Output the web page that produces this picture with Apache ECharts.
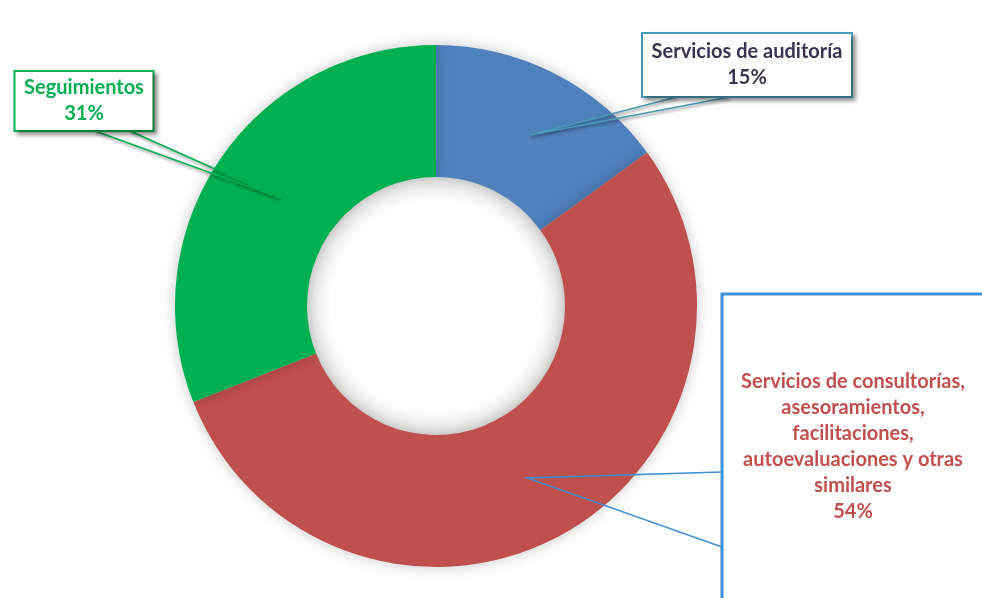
<!DOCTYPE html>
<html>
<head>
<meta charset="utf-8">
<script src="https://cdn.jsdelivr.net/npm/echarts@6/dist/echarts.min.js"></script>
<style>
  html, body { margin: 0; padding: 0; background: #fff; }
  #chart { width: 982px; height: 598px; }
</style>
</head>
<body>
<div id="chart"></div>
<script>
// datos
var categories = [
    'Servicios de auditoría',
    'Servicios de consultorías,\nasesoramientos,\nfacilitaciones,\nautoevaluaciones y otras\nsimilares',
    'Seguimientos'
];
var values = [15, 54, 31];
var colors = ['#4f81bd', '#c0504d', '#00b050'];

// estilo de cada globo
var callouts = [
    { text: '#3f3151', border: '#4a9ab5', line: '#4a9ab5', width: 192, padding: [5, 8], bg: '#fff',
      x: 747, y: 65, pts: [[677, 97], [530, 135], [730, 97]] },
    { text: '#c0504d', border: '#3d8fd6', line: '#3d8fd6', width: 230, padding: [75, 16, 75, 16], bg: 'transparent',
      x: 853, y: 447, pts: [[722, 472], [527, 478], [722, 547]] },
    { text: '#00b050', border: '#00b050', line: '#00b050', width: 121, padding: [3, 8], bg: '#fff',
      x: 84, y: 101, pts: [[95, 131], [280, 198], [130, 131]] }
];

var chart = echarts.init(document.getElementById('chart'));

// sectores de color
var sliceData = categories.map(function (name, i) {
    return { name: name, value: values[i], itemStyle: { color: colors[i] } };
});

// mismos datos, sectores transparentes, solo para los globos (quedan encima)
var labelData = categories.map(function (name, i) {
    var c = callouts[i];
    var boxed = c.bg !== 'transparent';
    return {
        name: name,
        value: values[i],
        label: {
            color: c.text,
            width: c.width,
            padding: c.padding,
            backgroundColor: c.bg,
            borderColor: c.border,
            borderWidth: boxed ? 2 : 1.5,
            shadowColor: boxed ? 'rgba(0,0,0,0.35)' : 'transparent',
            shadowBlur: boxed ? 4 : 0,
            shadowOffsetX: boxed ? 3 : 0,
            shadowOffsetY: boxed ? 3 : 0
        },
        labelLine: {
            lineStyle: {
                color: c.line,
                width: 1.5,
                shadowColor: boxed ? 'rgba(0,0,0,0.45)' : 'transparent',
                shadowBlur: boxed ? 3 : 0,
                shadowOffsetX: boxed ? 1 : 0,
                shadowOffsetY: boxed ? 2 : 0
            }
        }
    };
});

var pieBase = {
    type: 'pie',
    center: [436, 306],
    radius: [129, 261],
    startAngle: 90,
    clockwise: true,
    avoidLabelOverlap: false,
    emphasis: { disabled: true },
    silent: true
};

var option = {
    backgroundColor: '#fff',
    animation: false,
    graphic: [{
        type: 'circle',
        z: -1,
        shape: { cx: 436, cy: 306, r: 130 },
        style: {
            fill: new echarts.graphic.RadialGradient(0.5, 0.5, 0.5, [
                { offset: 0, color: '#ffffff' },
                { offset: 0.8, color: '#ffffff' },
                { offset: 1, color: '#e4e4e4' }
            ])
        }
    }],
    series: [
        Object.assign({}, pieBase, {
            z: 2,
            itemStyle: { shadowColor: 'rgba(0,0,0,0.22)', shadowBlur: 14 },
            label: { show: false },
            labelLine: { show: false },
            data: sliceData
        }),
        Object.assign({}, pieBase, {
            z: 5,
            itemStyle: { color: 'transparent' },
            label: {
                show: true,
                position: 'outside',
                formatter: '{b}\n{d}%',
                fontFamily: 'Lato',
                fontWeight: 'bold',
                fontSize: 20,
                lineHeight: 26,
                align: 'center'
            },
            labelLine: { show: true, smooth: false },
            labelLayout: function (params) {
                var c = callouts[params.dataIndex];
                return {
                    x: c.x,
                    y: c.y,
                    align: 'center',
                    verticalAlign: 'middle',
                    labelLinePoints: c.pts
                };
            },
            data: labelData
        })
    ]
};

chart.setOption(option);
</script>
</body>
</html>
